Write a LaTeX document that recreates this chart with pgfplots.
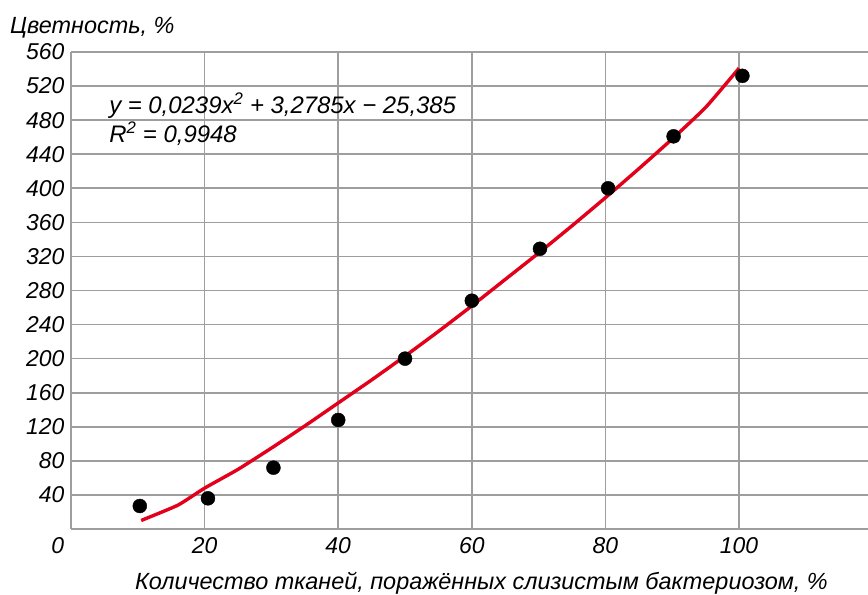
\documentclass[border=0pt]{standalone}
\usepackage{fontspec}
\setmainfont{Liberation Sans}
\usepackage{pgfplots}
\pgfplotsset{compat=1.18}
\definecolor{gridgray}{RGB}{158,158,158}
\definecolor{trendred}{RGB}{226,0,26}
\begin{document}
\begin{tikzpicture}
\useasboundingbox (0,0) rectangle (868bp,595bp);
\begin{axis}[
  at={(71bp,66bp)}, anchor=south west,
  scale only axis, width=797bp, height=477bp,
  xmin=0, xmax=119.3, ymin=0, ymax=560,
  xtick={0,20,...,100}, ytick={0,40,...,560},
  xticklabels={\llap{0\kern7bp},20,40,60,80,100},
  yticklabels={,40,80,120,160,200,240,280,320,360,400,440,480,520,560},
  grid=major, major grid style={draw=gridgray, line width=1.7bp},
  axis line style={draw=none}, tick style={draw=none},
  /pgf/number format/assume math mode=true,
  tick label style={font=\fontsize{23}{27}\selectfont\itshape},
  yticklabel style={xshift=-3bp},
  xticklabel style={yshift=-5bp},
  clip=false,
]
\addplot[trendred, line width=3.4bp, smooth, tension=0.3] coordinates {
(10.5,10) (16,28) (20,48) (25,70) (30,95) (35,121) (40,148) (45,175) (50,203)
(55,232) (60,262) (65,293) (70,324) (75,356) (80,389) (85,423) (90,458) (95,495) (100,541)};
\addplot[only marks, mark=*, mark size=7bp, black] coordinates {
(10.3,27) (20.5,36) (30.3,72) (40,128) (50,200) (60,268) (70.2,329) (80.4,400) (90.2,461) (100.5,532)};
\node[anchor=base west, font=\fontsize{24}{28}\selectfont\itshape] at (axis cs:5.2,488) {y = 0,0239x\textsuperscript{2} + 3,2785x − 25,385};
\node[anchor=base west, font=\fontsize{24}{28}\selectfont\itshape] at (axis cs:5.2,454) {R\textsuperscript{2} = 0,9948};
\node[anchor=base west, inner sep=0pt, font=\fontsize{23.5}{28}\selectfont\itshape] at ([xshift=-61bp,yshift=19bp]rel axis cs:0,1) {Цветность, \%};
\node[anchor=base, font=\fontsize{23.5}{28}\selectfont\itshape] at ([yshift=-60bp]rel axis cs:0.515,0) {Количество тканей, поражённых слизистым бактериозом, \%};
\end{axis}
\end{tikzpicture}
\end{document}
